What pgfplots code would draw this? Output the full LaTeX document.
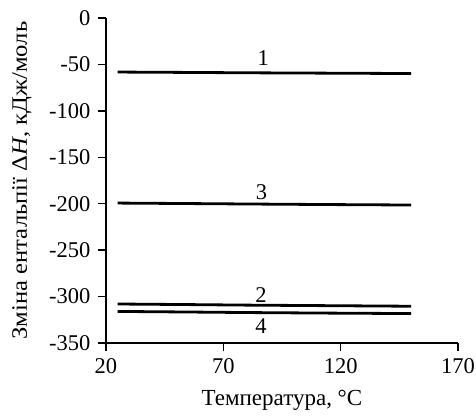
\documentclass[border=0pt]{standalone}
\usepackage{pgfplots}
\pgfplotsset{compat=1.18}
\usepackage{fontspec}
\setmainfont{Liberation Serif}
\newfontfamily\ylabfont[FakeStretch=1.12]{Liberation Serif}
\begin{document}
\fontsize{22}{25}\selectfont
\begin{tikzpicture}
\begin{axis}[
  scale only axis,
  width=352pt, height=325pt,
  xmin=20, xmax=170, ymin=-350, ymax=0,
  xtick={20,70,120,170},
  xticklabels={20,70,120,170},
  ytick={0,-50,-100,-150,-200,-250,-300,-350},
  yticklabels={0,-50,-100,-150,-200,-250,-300,-350},
  axis lines=left,
  axis line style={-, line width=1.3pt},
  tick style={line width=1.3pt, black},
  major tick length=8pt,
  tick align=outside,
  ticklabel style={font=\fontsize{22.5}{25}\selectfont},
  xlabel={Температура, °C},
  ylabel={\ylabfont Зміна ентальпії Δ\textit{H}, кДж/моль},
  every axis x label/.style={at={(axis description cs:0.5,0)}, yshift=-57pt, anchor=center, font=\fontsize{23}{26}\selectfont},
  every axis y label/.style={at={(axis description cs:0,0.5)}, xshift=-84pt, rotate=90, anchor=center, font=\fontsize{22}{25}\selectfont},
  clip=false,
]
\addplot[black, line width=2.8pt] coordinates {(25,-58.2) (54,-58.6) (80,-59.0) (115,-59.4) (150,-59.8)};
\addplot[black, line width=2.8pt] coordinates {(25,-308.0) (54,-308.6) (80,-309.2) (115,-309.8) (150,-310.4)};
\addplot[black, line width=2.8pt] coordinates {(25,-199.3) (54,-199.8) (80,-200.3) (115,-200.9) (150,-201.4)};
\addplot[black, line width=2.8pt] coordinates {(25,-316.0) (54,-316.6) (80,-317.2) (115,-317.8) (150,-318.3)};
\node[font=\fontsize{22.5}{25}\selectfont] at (axis cs:87,-43) {1};
\node[font=\fontsize{22.5}{25}\selectfont] at (axis cs:86.3,-188) {3};
\node[font=\fontsize{22.5}{25}\selectfont] at (axis cs:86,-298) {2};
\node[font=\fontsize{22.5}{25}\selectfont] at (axis cs:86,-332) {4};
\end{axis}
\pgfresetboundingbox
\path[use as bounding box] ([shift={(-106pt,-73pt)}]current axis.south west) rectangle ++(476pt,416pt);
\end{tikzpicture}
\end{document}
